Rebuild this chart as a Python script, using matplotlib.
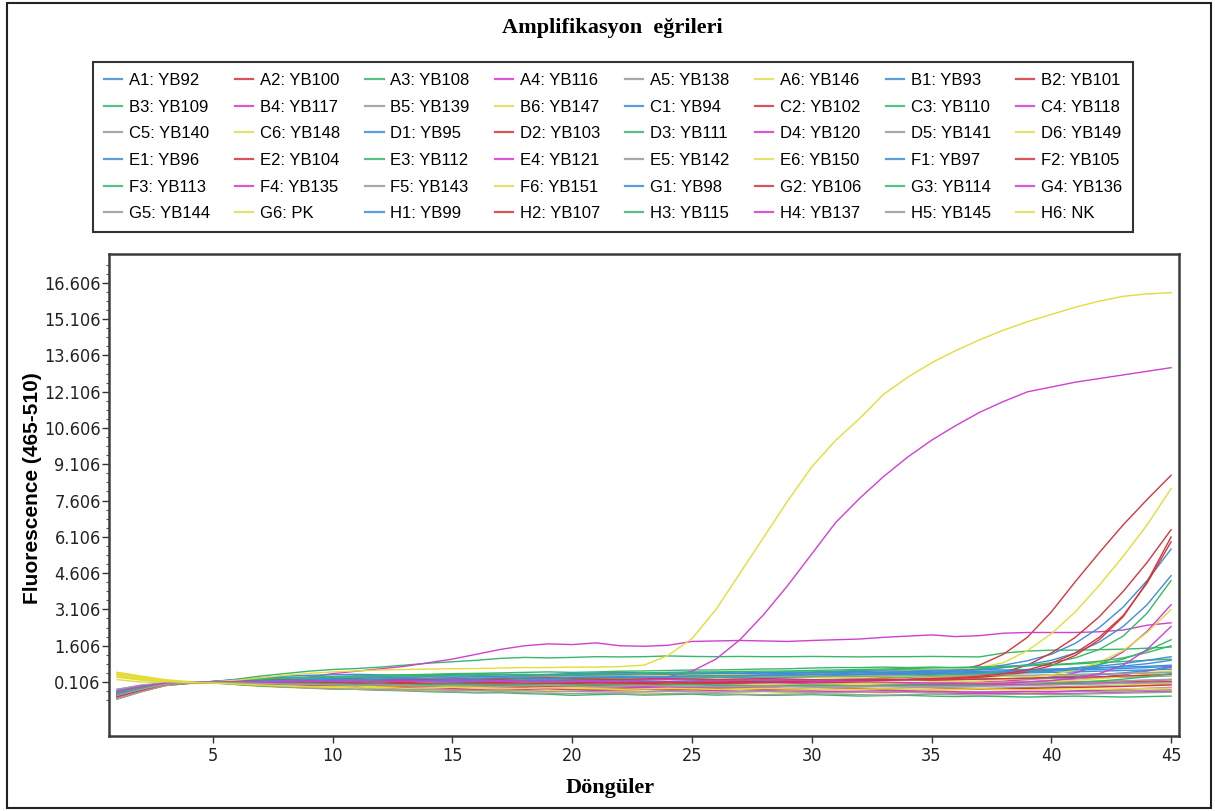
import matplotlib.pyplot as plt
from matplotlib.lines import Line2D
from matplotlib.patches import Rectangle
from matplotlib import font_manager

# Amplifikasyon egrileri - 48 kuyu, 45 dongu

cycles = list(range(1, 46))

wells = ['A1', 'A2', 'A3', 'A4', 'A5', 'A6', 'B1', 'B2', 'B3', 'B4', 'B5', 'B6',
         'C1', 'C2', 'C3', 'C4', 'C5', 'C6', 'D1', 'D2', 'D3', 'D4', 'D5', 'D6',
         'E1', 'E2', 'E3', 'E4', 'E5', 'E6', 'F1', 'F2', 'F3', 'F4', 'F5', 'F6',
         'G1', 'G2', 'G3', 'G4', 'G5', 'G6', 'H1', 'H2', 'H3', 'H4', 'H5', 'H6']
samples = ['YB92', 'YB100', 'YB108', 'YB116', 'YB138', 'YB146', 'YB93', 'YB101', 'YB109', 'YB117', 'YB139', 'YB147',
           'YB94', 'YB102', 'YB110', 'YB118', 'YB140', 'YB148', 'YB95', 'YB103', 'YB111', 'YB120', 'YB141', 'YB149',
           'YB96', 'YB104', 'YB112', 'YB121', 'YB142', 'YB150', 'YB97', 'YB105', 'YB113', 'YB135', 'YB143', 'YB151',
           'YB98', 'YB106', 'YB114', 'YB136', 'YB144', 'PK', 'YB99', 'YB107', 'YB115', 'YB137', 'YB145', 'NK']

A1 = [-0.35, -0.12, 0.04, 0.08, 0.10, 0.14, 0.18, 0.20, 0.22, 0.25, 0.25, 0.28, 0.26, 0.30, 0.30, 0.28, 0.30, 0.32, 0.30, 0.33, 0.35, 0.33, 0.35, 0.36, 0.35, 0.38, 0.36, 0.35, 0.38, 0.40, 0.38, 0.40, 0.42, 0.40, 0.42, 0.45, 0.44, 0.46, 0.48, 0.50, 0.52, 0.55, 0.58, 0.60, 0.63]
A2 = [-0.55, -0.28, -0.02, 0.06, 0.09, 0.10, 0.06, 0.02, 0.00, -0.02, 0.00, -0.04, -0.02, 0.00, -0.05, -0.04, -0.02, -0.06, -0.05, -0.04, -0.06, -0.08, -0.05, -0.06, -0.04, -0.08, -0.06, -0.05, -0.08, -0.06, -0.04, -0.06, -0.08, -0.05, -0.06, -0.04, -0.02, -0.04, 0.00, 0.02, 0.04, 0.08, 0.12, 0.15, 0.20]
A3 = [-0.25, -0.05, 0.05, 0.08, 0.12, 0.22, 0.35, 0.45, 0.55, 0.62, 0.66, 0.72, 0.80, 0.88, 0.94, 1.00, 1.08, 1.12, 1.10, 1.12, 1.15, 1.14, 1.15, 1.18, 1.16, 1.15, 1.16, 1.15, 1.15, 1.16, 1.15, 1.14, 1.15, 1.15, 1.16, 1.15, 1.14, 1.30, 1.38, 1.42, 1.42, 1.44, 1.46, 1.50, 1.55]
A4 = [-0.40, -0.15, 0.02, 0.06, 0.08, 0.05, 0.02, 0.00, -0.02, 0.00, -0.04, -0.02, -0.05, -0.04, -0.02, -0.05, -0.06, -0.04, -0.05, -0.06, -0.04, -0.05, -0.06, -0.04, -0.02, -0.04, -0.02, 0.00, -0.02, 0.00, 0.02, 0.00, 0.02, 0.04, 0.05, 0.08, 0.10, 0.14, 0.20, 0.30, 0.48, 0.80, 1.35, 2.20, 3.30]
A5 = [-0.30, -0.10, 0.05, 0.08, 0.10, 0.12, 0.14, 0.12, 0.15, 0.14, 0.12, 0.15, 0.16, 0.14, 0.15, 0.12, 0.14, 0.15, 0.12, 0.10, 0.12, 0.10, 0.08, 0.10, 0.12, 0.10, 0.08, 0.10, 0.12, 0.10, 0.08, 0.10, 0.08, 0.06, 0.08, 0.10, 0.08, 0.10, 0.12, 0.10, 0.12, 0.14, 0.15, 0.18, 0.20]
A6 = [0.45, 0.30, 0.15, 0.10, 0.08, 0.00, -0.08, -0.12, -0.15, -0.20, -0.20, -0.22, -0.20, -0.24, -0.25, -0.22, -0.25, -0.28, -0.26, -0.30, -0.28, -0.30, -0.32, -0.30, -0.28, -0.30, -0.32, -0.30, -0.34, -0.32, -0.30, -0.32, -0.35, -0.32, -0.30, -0.32, -0.34, -0.30, -0.32, -0.30, -0.28, -0.30, -0.26, -0.25, -0.22]
B1 = [-0.50, -0.22, 0.00, 0.08, 0.12, 0.20, 0.25, 0.30, 0.30, 0.32, 0.35, 0.36, 0.35, 0.38, 0.40, 0.38, 0.40, 0.42, 0.40, 0.42, 0.45, 0.43, 0.45, 0.44, 0.42, 0.42, 0.40, 0.40, 0.42, 0.40, 0.38, 0.40, 0.42, 0.40, 0.38, 0.42, 0.45, 0.48, 0.50, 0.55, 0.60, 0.62, 0.66, 0.70, 0.75]
B2 = [-0.45, -0.20, 0.02, 0.07, 0.10, 0.08, 0.05, 0.06, 0.04, 0.05, 0.02, 0.04, 0.05, 0.02, 0.04, 0.06, 0.04, 0.05, 0.06, 0.04, 0.06, 0.08, 0.06, 0.08, 0.10, 0.10, 0.12, 0.14, 0.16, 0.18, 0.20, 0.24, 0.28, 0.34, 0.42, 0.56, 0.80, 1.25, 1.95, 3.00, 4.25, 5.45, 6.60, 7.65, 8.65]
B3 = [-0.30, -0.08, 0.04, 0.08, 0.12, 0.18, 0.22, 0.25, 0.28, 0.30, 0.28, 0.30, 0.32, 0.30, 0.28, 0.30, 0.32, 0.30, 0.28, 0.30, 0.32, 0.30, 0.28, 0.30, 0.32, 0.30, 0.28, 0.30, 0.32, 0.30, 0.32, 0.34, 0.32, 0.30, 0.32, 0.34, 0.32, 0.34, 0.36, 0.38, 0.40, 0.42, 0.45, 0.48, 0.50]
B4 = [-0.20, -0.05, 0.05, 0.08, 0.10, 0.12, 0.15, 0.20, 0.30, 0.45, 0.55, 0.65, 0.75, 0.90, 1.05, 1.25, 1.45, 1.60, 1.68, 1.65, 1.72, 1.60, 1.58, 1.62, 1.78, 1.80, 1.82, 1.80, 1.78, 1.82, 1.85, 1.88, 1.95, 2.00, 2.05, 1.98, 2.02, 2.12, 2.15, 2.15, 2.15, 2.18, 2.25, 2.45, 2.55]
B5 = [-0.50, -0.25, 0.00, 0.06, 0.08, 0.04, 0.00, -0.04, -0.06, -0.08, -0.10, -0.08, -0.12, -0.10, -0.12, -0.14, -0.12, -0.10, -0.14, -0.12, -0.10, -0.12, -0.14, -0.12, -0.10, -0.12, -0.14, -0.12, -0.16, -0.14, -0.12, -0.14, -0.16, -0.14, -0.12, -0.14, -0.16, -0.14, -0.12, -0.10, -0.08, -0.06, -0.04, 0.00, 0.02]
B6 = [0.30, 0.18, 0.10, 0.08, 0.06, 0.00, -0.05, -0.10, -0.12, -0.15, -0.18, -0.15, -0.20, -0.18, -0.22, -0.20, -0.18, -0.22, -0.25, -0.20, -0.22, -0.25, -0.22, -0.20, -0.22, -0.25, -0.22, -0.20, -0.24, -0.22, -0.20, -0.22, -0.25, -0.28, -0.25, -0.22, -0.20, -0.22, -0.18, -0.15, -0.12, -0.10, -0.05, 0.00, 0.05]
C1 = [-0.40, -0.20, 0.02, 0.08, 0.10, 0.15, 0.20, 0.22, 0.25, 0.28, 0.30, 0.30, 0.32, 0.30, 0.32, 0.35, 0.33, 0.35, 0.36, 0.35, 0.38, 0.36, 0.38, 0.40, 0.38, 0.40, 0.42, 0.40, 0.42, 0.44, 0.45, 0.48, 0.50, 0.52, 0.55, 0.60, 0.68, 0.80, 0.98, 1.25, 1.70, 2.35, 3.20, 4.30, 5.60]
C2 = [-0.60, -0.30, -0.05, 0.05, 0.08, 0.10, 0.12, 0.10, 0.08, 0.10, 0.12, 0.10, 0.08, 0.12, 0.10, 0.08, 0.10, 0.15, 0.12, 0.10, 0.08, 0.10, 0.12, 0.10, 0.08, 0.06, 0.08, 0.10, 0.08, 0.06, 0.08, 0.06, 0.04, 0.06, 0.08, 0.06, 0.04, 0.02, 0.04, 0.06, 0.08, 0.10, 0.12, 0.10, 0.12]
C3 = [-0.35, -0.12, 0.04, 0.08, 0.10, 0.14, 0.18, 0.20, 0.18, 0.20, 0.22, 0.20, 0.22, 0.24, 0.22, 0.20, 0.22, 0.24, 0.26, 0.28, 0.30, 0.32, 0.35, 0.38, 0.40, 0.42, 0.45, 0.48, 0.50, 0.52, 0.55, 0.58, 0.60, 0.62, 0.60, 0.62, 0.65, 0.70, 0.78, 0.90, 1.10, 1.45, 2.00, 2.95, 4.30]
C4 = [-0.45, -0.20, 0.00, 0.06, 0.10, 0.05, 0.00, -0.05, -0.10, -0.12, -0.15, -0.12, -0.18, -0.20, -0.18, -0.20, -0.22, -0.20, -0.18, -0.22, -0.25, -0.22, -0.20, -0.24, -0.22, -0.25, -0.28, -0.25, -0.28, -0.30, -0.28, -0.30, -0.32, -0.30, -0.34, -0.36, -0.38, -0.36, -0.38, -0.36, -0.38, -0.35, -0.32, -0.30, -0.28]
C5 = [-0.40, -0.18, 0.02, 0.06, 0.10, 0.08, 0.06, 0.04, 0.05, 0.04, 0.02, 0.04, 0.00, 0.02, 0.04, 0.02, 0.00, 0.02, 0.00, -0.02, 0.00, 0.02, 0.00, -0.02, 0.00, -0.02, 0.00, 0.02, 0.00, -0.02, 0.00, -0.02, -0.04, -0.02, 0.00, -0.02, 0.00, 0.02, 0.04, 0.06, 0.08, 0.10, 0.14, 0.18, 0.22]
C6 = [0.20, 0.10, 0.08, 0.08, 0.10, 0.12, 0.15, 0.18, 0.20, 0.22, 0.25, 0.28, 0.30, 0.28, 0.30, 0.32, 0.30, 0.32, 0.35, 0.32, 0.35, 0.38, 0.36, 0.38, 0.40, 0.40, 0.42, 0.44, 0.45, 0.48, 0.50, 0.52, 0.55, 0.58, 0.60, 0.62, 0.70, 0.90, 1.40, 2.10, 3.00, 4.10, 5.30, 6.60, 8.10]
D1 = [-0.25, -0.05, 0.06, 0.10, 0.12, 0.20, 0.28, 0.35, 0.38, 0.40, 0.42, 0.40, 0.38, 0.40, 0.42, 0.45, 0.42, 0.40, 0.42, 0.45, 0.48, 0.50, 0.48, 0.50, 0.52, 0.50, 0.48, 0.50, 0.52, 0.50, 0.52, 0.54, 0.56, 0.55, 0.58, 0.60, 0.62, 0.60, 0.62, 0.64, 0.66, 0.70, 0.72, 0.75, 0.80]
D2 = [-0.50, -0.25, 0.00, 0.06, 0.08, 0.06, 0.04, 0.02, 0.00, -0.02, 0.00, -0.02, -0.04, -0.02, 0.00, -0.02, -0.04, -0.02, 0.00, 0.02, 0.00, 0.02, 0.04, 0.02, 0.04, 0.06, 0.08, 0.10, 0.12, 0.14, 0.16, 0.18, 0.20, 0.22, 0.26, 0.30, 0.38, 0.50, 0.80, 1.30, 1.95, 2.80, 3.85, 5.05, 6.40]
D3 = [-0.30, -0.10, 0.04, 0.08, 0.12, 0.16, 0.20, 0.25, 0.30, 0.32, 0.35, 0.38, 0.40, 0.42, 0.45, 0.46, 0.48, 0.50, 0.52, 0.50, 0.52, 0.55, 0.56, 0.58, 0.60, 0.60, 0.62, 0.64, 0.65, 0.68, 0.70, 0.70, 0.72, 0.70, 0.72, 0.70, 0.72, 0.75, 0.78, 0.80, 0.85, 0.90, 0.95, 1.00, 1.05]
D4 = [-0.35, -0.12, 0.02, 0.08, 0.12, 0.10, 0.08, 0.05, 0.02, 0.00, 0.02, 0.00, -0.02, 0.00, 0.02, 0.00, -0.02, -0.04, -0.02, 0.00, 0.02, 0.00, -0.02, 0.00, 0.02, 0.04, 0.02, 0.00, 0.02, 0.04, 0.02, 0.00, -0.02, 0.00, 0.02, 0.04, 0.06, 0.08, 0.12, 0.16, 0.22, 0.30, 0.40, 0.55, 0.75]
D5 = [-0.20, -0.02, 0.06, 0.10, 0.12, 0.15, 0.18, 0.20, 0.22, 0.20, 0.22, 0.25, 0.22, 0.20, 0.22, 0.25, 0.28, 0.25, 0.22, 0.25, 0.22, 0.20, 0.22, 0.25, 0.22, 0.20, 0.22, 0.24, 0.22, 0.20, 0.22, 0.24, 0.22, 0.20, 0.22, 0.24, 0.26, 0.24, 0.22, 0.24, 0.26, 0.28, 0.30, 0.32, 0.35]
D6 = [0.50, 0.32, 0.15, 0.10, 0.08, 0.10, 0.12, 0.15, 0.18, 0.20, 0.22, 0.24, 0.22, 0.25, 0.28, 0.30, 0.28, 0.30, 0.32, 0.30, 0.28, 0.30, 0.32, 0.30, 0.28, 0.30, 0.32, 0.34, 0.32, 0.30, 0.28, 0.30, 0.32, 0.34, 0.32, 0.30, 0.32, 0.34, 0.36, 0.38, 0.40, 0.42, 0.45, 0.50, 0.55]
E1 = [-0.30, -0.10, 0.05, 0.08, 0.10, 0.10, 0.12, 0.15, 0.15, 0.18, 0.20, 0.20, 0.22, 0.20, 0.22, 0.25, 0.24, 0.25, 0.26, 0.25, 0.28, 0.28, 0.30, 0.30, 0.32, 0.30, 0.32, 0.35, 0.36, 0.38, 0.40, 0.42, 0.45, 0.48, 0.50, 0.55, 0.60, 0.70, 0.82, 1.00, 1.30, 1.75, 2.40, 3.30, 4.50]
E2 = [-0.55, -0.28, -0.02, 0.05, 0.08, 0.02, -0.02, -0.05, -0.08, -0.10, -0.12, -0.10, -0.14, -0.12, -0.15, -0.18, -0.15, -0.12, -0.16, -0.18, -0.20, -0.18, -0.15, -0.18, -0.20, -0.18, -0.16, -0.18, -0.20, -0.22, -0.20, -0.18, -0.20, -0.22, -0.20, -0.18, -0.20, -0.18, -0.16, -0.14, -0.12, -0.10, -0.08, -0.05, -0.02]
E3 = [-0.40, -0.15, 0.02, 0.06, 0.10, 0.12, 0.15, 0.14, 0.12, 0.15, 0.16, 0.18, 0.15, 0.16, 0.18, 0.20, 0.18, 0.20, 0.22, 0.20, 0.22, 0.24, 0.22, 0.25, 0.26, 0.28, 0.30, 0.28, 0.30, 0.32, 0.34, 0.35, 0.36, 0.38, 0.40, 0.42, 0.44, 0.48, 0.52, 0.58, 0.68, 0.82, 1.05, 1.40, 1.85]
E4 = [-0.35, -0.12, 0.03, 0.07, 0.10, 0.08, 0.06, 0.08, 0.10, 0.12, 0.10, 0.12, 0.14, 0.12, 0.14, 0.15, 0.14, 0.16, 0.15, 0.14, 0.16, 0.18, 0.22, 0.32, 0.55, 1.05, 1.85, 2.90, 4.10, 5.40, 6.70, 7.70, 8.60, 9.40, 10.10, 10.70, 11.25, 11.70, 12.10, 12.30, 12.50, 12.65, 12.80, 12.95, 13.10]
E5 = [-0.60, -0.30, -0.04, 0.04, 0.06, 0.00, -0.05, -0.10, -0.12, -0.15, -0.18, -0.20, -0.22, -0.20, -0.24, -0.25, -0.28, -0.25, -0.30, -0.28, -0.30, -0.32, -0.30, -0.28, -0.30, -0.32, -0.30, -0.28, -0.30, -0.32, -0.34, -0.32, -0.30, -0.32, -0.35, -0.32, -0.30, -0.32, -0.30, -0.28, -0.30, -0.28, -0.26, -0.24, -0.22]
E6 = [0.35, 0.20, 0.10, 0.08, 0.08, 0.05, 0.02, 0.00, -0.02, 0.00, -0.02, -0.04, -0.02, 0.00, -0.02, -0.04, -0.06, -0.04, -0.02, -0.04, -0.06, -0.04, -0.02, -0.04, -0.06, -0.04, -0.02, 0.00, -0.02, -0.04, -0.02, 0.00, 0.02, 0.00, 0.02, 0.04, 0.06, 0.08, 0.10, 0.14, 0.18, 0.24, 0.32, 0.42, 0.55]
F1 = [-0.45, -0.20, 0.00, 0.06, 0.10, 0.12, 0.10, 0.12, 0.15, 0.12, 0.10, 0.12, 0.14, 0.12, 0.10, 0.12, 0.14, 0.12, 0.10, 0.12, 0.14, 0.16, 0.14, 0.12, 0.14, 0.16, 0.18, 0.16, 0.14, 0.16, 0.18, 0.16, 0.18, 0.20, 0.18, 0.20, 0.22, 0.24, 0.26, 0.30, 0.34, 0.40, 0.48, 0.58, 0.70]
F2 = [-0.50, -0.22, 0.00, 0.06, 0.10, 0.08, 0.06, 0.04, 0.06, 0.08, 0.06, 0.04, 0.06, 0.05, 0.04, 0.06, 0.08, 0.06, 0.04, 0.06, 0.08, 0.06, 0.08, 0.10, 0.08, 0.10, 0.12, 0.10, 0.12, 0.14, 0.15, 0.16, 0.18, 0.20, 0.22, 0.25, 0.30, 0.38, 0.52, 0.78, 1.20, 1.85, 2.80, 4.25, 6.10]
F3 = [-0.50, -0.25, -0.02, 0.05, 0.08, 0.00, -0.06, -0.10, -0.14, -0.18, -0.20, -0.24, -0.26, -0.30, -0.32, -0.35, -0.34, -0.38, -0.40, -0.45, -0.42, -0.40, -0.44, -0.42, -0.40, -0.44, -0.42, -0.45, -0.44, -0.42, -0.45, -0.48, -0.46, -0.45, -0.48, -0.50, -0.48, -0.50, -0.52, -0.50, -0.48, -0.50, -0.52, -0.50, -0.48]
F4 = [-0.50, -0.22, 0.00, 0.06, 0.10, 0.12, 0.08, 0.04, 0.00, -0.04, -0.06, -0.04, -0.08, -0.10, -0.08, -0.12, -0.10, -0.08, -0.12, -0.14, -0.12, -0.10, -0.14, -0.16, -0.14, -0.12, -0.16, -0.18, -0.20, -0.22, -0.20, -0.22, -0.24, -0.26, -0.28, -0.30, -0.32, -0.30, -0.28, -0.30, -0.26, -0.24, -0.20, -0.16, -0.12]
F5 = [-0.30, -0.08, 0.05, 0.08, 0.12, 0.16, 0.20, 0.22, 0.25, 0.28, 0.30, 0.28, 0.30, 0.32, 0.30, 0.32, 0.34, 0.32, 0.30, 0.32, 0.34, 0.36, 0.34, 0.32, 0.34, 0.36, 0.34, 0.32, 0.34, 0.36, 0.34, 0.36, 0.38, 0.36, 0.34, 0.36, 0.38, 0.40, 0.38, 0.40, 0.42, 0.44, 0.46, 0.48, 0.50]
F6 = [0.40, 0.25, 0.12, 0.08, 0.08, 0.04, 0.00, -0.04, -0.06, -0.08, -0.06, -0.10, -0.08, -0.06, -0.10, -0.12, -0.10, -0.08, -0.10, -0.12, -0.10, -0.08, -0.06, -0.08, -0.06, -0.04, -0.06, -0.04, -0.02, 0.00, 0.02, 0.04, 0.06, 0.08, 0.10, 0.12, 0.15, 0.20, 0.28, 0.40, 0.60, 0.92, 1.40, 2.15, 3.10]
G1 = [-0.35, -0.12, 0.03, 0.07, 0.10, 0.14, 0.18, 0.20, 0.22, 0.24, 0.26, 0.28, 0.30, 0.32, 0.30, 0.32, 0.34, 0.35, 0.36, 0.38, 0.40, 0.42, 0.44, 0.42, 0.44, 0.46, 0.45, 0.44, 0.46, 0.48, 0.50, 0.48, 0.50, 0.52, 0.50, 0.52, 0.54, 0.56, 0.58, 0.62, 0.68, 0.76, 0.86, 1.00, 1.15]
G2 = [-0.45, -0.20, 0.02, 0.07, 0.10, 0.14, 0.18, 0.20, 0.18, 0.20, 0.22, 0.20, 0.18, 0.20, 0.22, 0.24, 0.22, 0.26, 0.28, 0.24, 0.22, 0.20, 0.22, 0.24, 0.22, 0.20, 0.22, 0.24, 0.22, 0.20, 0.18, 0.20, 0.22, 0.20, 0.18, 0.20, 0.22, 0.24, 0.26, 0.28, 0.30, 0.32, 0.35, 0.38, 0.42]
G3 = [-0.30, -0.10, 0.04, 0.08, 0.12, 0.18, 0.22, 0.26, 0.28, 0.30, 0.32, 0.35, 0.38, 0.36, 0.38, 0.40, 0.42, 0.40, 0.38, 0.40, 0.42, 0.44, 0.46, 0.48, 0.50, 0.52, 0.54, 0.55, 0.56, 0.58, 0.60, 0.62, 0.64, 0.66, 0.68, 0.70, 0.72, 0.74, 0.78, 0.82, 0.88, 0.96, 1.10, 1.32, 1.60]
G4 = [-0.40, -0.18, 0.01, 0.06, 0.10, 0.08, 0.04, 0.02, 0.00, -0.02, 0.00, -0.02, -0.04, -0.06, -0.04, -0.02, -0.04, -0.06, -0.08, -0.06, -0.04, -0.06, -0.08, -0.10, -0.08, -0.06, -0.08, -0.10, -0.08, -0.06, -0.04, -0.06, -0.04, -0.02, 0.00, 0.02, 0.04, 0.06, 0.10, 0.16, 0.26, 0.45, 0.80, 1.45, 2.40]
G5 = [-0.55, -0.28, -0.03, 0.05, 0.08, 0.02, -0.04, -0.10, -0.15, -0.18, -0.20, -0.22, -0.25, -0.28, -0.30, -0.32, -0.30, -0.34, -0.36, -0.38, -0.36, -0.38, -0.40, -0.38, -0.36, -0.38, -0.40, -0.42, -0.40, -0.38, -0.40, -0.42, -0.44, -0.42, -0.40, -0.42, -0.44, -0.42, -0.40, -0.42, -0.40, -0.38, -0.36, -0.34, -0.32]
G6 = [0.50, 0.35, 0.20, 0.12, 0.10, 0.18, 0.28, 0.38, 0.46, 0.52, 0.56, 0.60, 0.62, 0.64, 0.65, 0.66, 0.68, 0.70, 0.70, 0.72, 0.72, 0.74, 0.80, 1.20, 1.90, 3.10, 4.60, 6.10, 7.60, 9.00, 10.10, 11.00, 12.00, 12.70, 13.30, 13.80, 14.25, 14.65, 15.00, 15.30, 15.60, 15.85, 16.05, 16.15, 16.20]
H1 = [-0.40, -0.15, 0.02, 0.07, 0.10, 0.12, 0.15, 0.18, 0.20, 0.22, 0.20, 0.22, 0.25, 0.24, 0.22, 0.25, 0.28, 0.26, 0.25, 0.28, 0.30, 0.32, 0.30, 0.32, 0.35, 0.36, 0.35, 0.38, 0.40, 0.42, 0.40, 0.42, 0.44, 0.45, 0.46, 0.48, 0.50, 0.52, 0.55, 0.58, 0.62, 0.68, 0.76, 0.86, 1.00]
H2 = [-0.50, -0.24, 0.00, 0.06, 0.10, 0.06, 0.02, 0.00, -0.02, -0.04, -0.02, -0.04, -0.06, -0.04, -0.02, -0.04, -0.06, -0.08, -0.06, -0.04, -0.06, -0.04, -0.02, 0.00, 0.02, 0.04, 0.06, 0.08, 0.10, 0.12, 0.14, 0.16, 0.18, 0.20, 0.24, 0.28, 0.34, 0.44, 0.60, 0.88, 1.30, 1.95, 2.85, 4.20, 5.90]
H3 = [-0.35, -0.12, 0.03, 0.07, 0.10, 0.08, 0.04, 0.02, 0.04, 0.02, 0.00, 0.02, -0.02, 0.00, 0.02, 0.00, -0.02, 0.00, -0.04, -0.02, 0.00, -0.02, -0.04, -0.02, 0.00, -0.02, -0.04, -0.06, -0.04, -0.02, -0.04, -0.06, -0.04, -0.02, -0.04, -0.06, -0.04, -0.02, 0.00, 0.04, 0.08, 0.14, 0.22, 0.32, 0.45]
H4 = [-0.30, -0.08, 0.05, 0.08, 0.10, 0.12, 0.10, 0.12, 0.14, 0.16, 0.14, 0.12, 0.14, 0.16, 0.18, 0.16, 0.14, 0.16, 0.18, 0.16, 0.14, 0.16, 0.18, 0.20, 0.18, 0.16, 0.18, 0.20, 0.18, 0.16, 0.14, 0.12, 0.10, 0.08, 0.06, 0.04, 0.02, 0.00, -0.02, 0.00, 0.02, 0.04, 0.06, 0.08, 0.10]
H5 = [-0.45, -0.20, 0.00, 0.06, 0.09, 0.06, 0.04, 0.02, 0.00, -0.02, -0.04, -0.02, -0.04, -0.06, -0.04, -0.06, -0.08, -0.06, -0.04, -0.06, -0.08, -0.06, -0.04, -0.06, -0.08, -0.10, -0.08, -0.06, -0.08, -0.10, -0.08, -0.06, -0.08, -0.10, -0.12, -0.10, -0.08, -0.06, -0.04, -0.02, 0.00, 0.02, 0.04, 0.06, 0.08]
H6 = [0.40, 0.25, 0.12, 0.08, 0.06, 0.02, -0.02, -0.06, -0.10, -0.12, -0.14, -0.12, -0.16, -0.14, -0.12, -0.16, -0.18, -0.16, -0.14, -0.16, -0.18, -0.20, -0.18, -0.16, -0.18, -0.20, -0.18, -0.16, -0.18, -0.20, -0.22, -0.20, -0.18, -0.20, -0.22, -0.20, -0.18, -0.20, -0.22, -0.20, -0.18, -0.20, -0.18, -0.16, -0.15]

series = [A1, A2, A3, A4, A5, A6, B1, B2, B3, B4, B5, B6,
          C1, C2, C3, C4, C5, C6, D1, D2, D3, D4, D5, D6,
          E1, E2, E3, E4, E5, E6, F1, F2, F3, F4, F5, F6,
          G1, G2, G3, G4, G5, G6, H1, H2, H3, H4, H5, H6]

# kolon numarasina gore renk (1..6)
colors = ['#3f8fd8', '#d2383f', '#38b76a', '#d040d0', '#a0a0a0', '#e3dc3a']
legend_colors = ['#5a9fdc', '#d9535c', '#55c282', '#d65ad6', '#a8a8a8', '#e6e070']

# dar yazi tipi varsa onu kullan (eksen etiketleri icin)
tick_font = {'family': 'Liberation Sans', 'size': 12}
try:
    cond = font_manager.FontProperties(family='DejaVu Sans', stretch='condensed')
    if 'Condensed' in font_manager.findfont(cond, fallback_to_default=False):
        tick_font = {'family': 'DejaVu Sans', 'stretch': 'condensed', 'size': 13}
except Exception:
    pass

fig = plt.figure(figsize=(12.15, 8.11), dpi=100)
ax = fig.add_axes([109/1215, 1-736/811, 1070/1215, 482/811])

for i in range(len(series)):
    ax.plot(cycles, series[i], color=colors[i % 6], lw=1.0)

ax.set_xlim(0.66, 45.33)
ax.set_ylim(-2.13, 17.8)
ax.set_xticks([5, 10, 15, 20, 25, 30, 35, 40, 45])
yt = [0.106 + 1.5 * k for k in range(12)]
ax.set_yticks(yt)
ax.set_yticklabels(['%.3f' % v for v in yt])
ax.set_yticks([-0.644 + 0.375 * k for k in range(49)], minor=True)
ax.tick_params(axis='y', which='major', length=5, width=1, pad=1, colors='#333333', labelcolor='#222222')
ax.tick_params(axis='y', which='minor', length=2.5, width=0.8, colors='#555555')
ax.tick_params(axis='x', which='major', length=5, width=1, pad=3, colors='#333333', labelcolor='#222222')
for lab in ax.get_xticklabels() + ax.get_yticklabels():
    lab.set_fontproperties(font_manager.FontProperties(**tick_font))
for sp in ax.spines.values():
    sp.set_linewidth(1.8)
    sp.set_color('#3c3c3c')

# lejant: satir satir (A1, A2, ... soldan saga)
entries = []
for i in range(len(series)):
    h = Line2D([], [], color=legend_colors[i % 6], lw=1.6)
    entries.append((h, wells[i] + ': ' + samples[i]))
order = [r * 8 + c for c in range(8) for r in range(6)]
leg = fig.legend([entries[k][0] for k in order], [entries[k][1] for k in order],
                 ncol=8, loc='upper left', bbox_to_anchor=(93/1215, 1-62/811, 1040/1215, 0.0),
                 mode='expand', prop={'family': 'Liberation Sans', 'size': 12},
                 handlelength=1.1, handletextpad=0.4, labelspacing=0.7, borderpad=0.65,
                 columnspacing=0.5, fancybox=False, framealpha=1, borderaxespad=0)
leg.get_frame().set_edgecolor('#333333')
leg.get_frame().set_linewidth(1.5)

fig.text(612/1215, 1-28/811, 'Amplifikasyon  eğrileri', ha='center', va='center',
         fontsize=16, fontweight='bold', family='Liberation Serif')
fig.text(610/1215, 1-788/811, 'Döngüler', ha='center', va='center',
         fontsize=16, fontweight='bold', family='Liberation Serif')
fig.text(33/1215, 1-488/811, 'Fluorescence (465-510)', ha='center', va='center', rotation=90,
         fontsize=15, fontweight='bold', family='Liberation Sans')

fig.add_artist(Rectangle((7/1215, 3/811), 1204/1215, 805/811, transform=fig.transFigure,
                         fill=False, edgecolor='#222222', lw=1.5))

fig.savefig('out.png', dpi=100)
